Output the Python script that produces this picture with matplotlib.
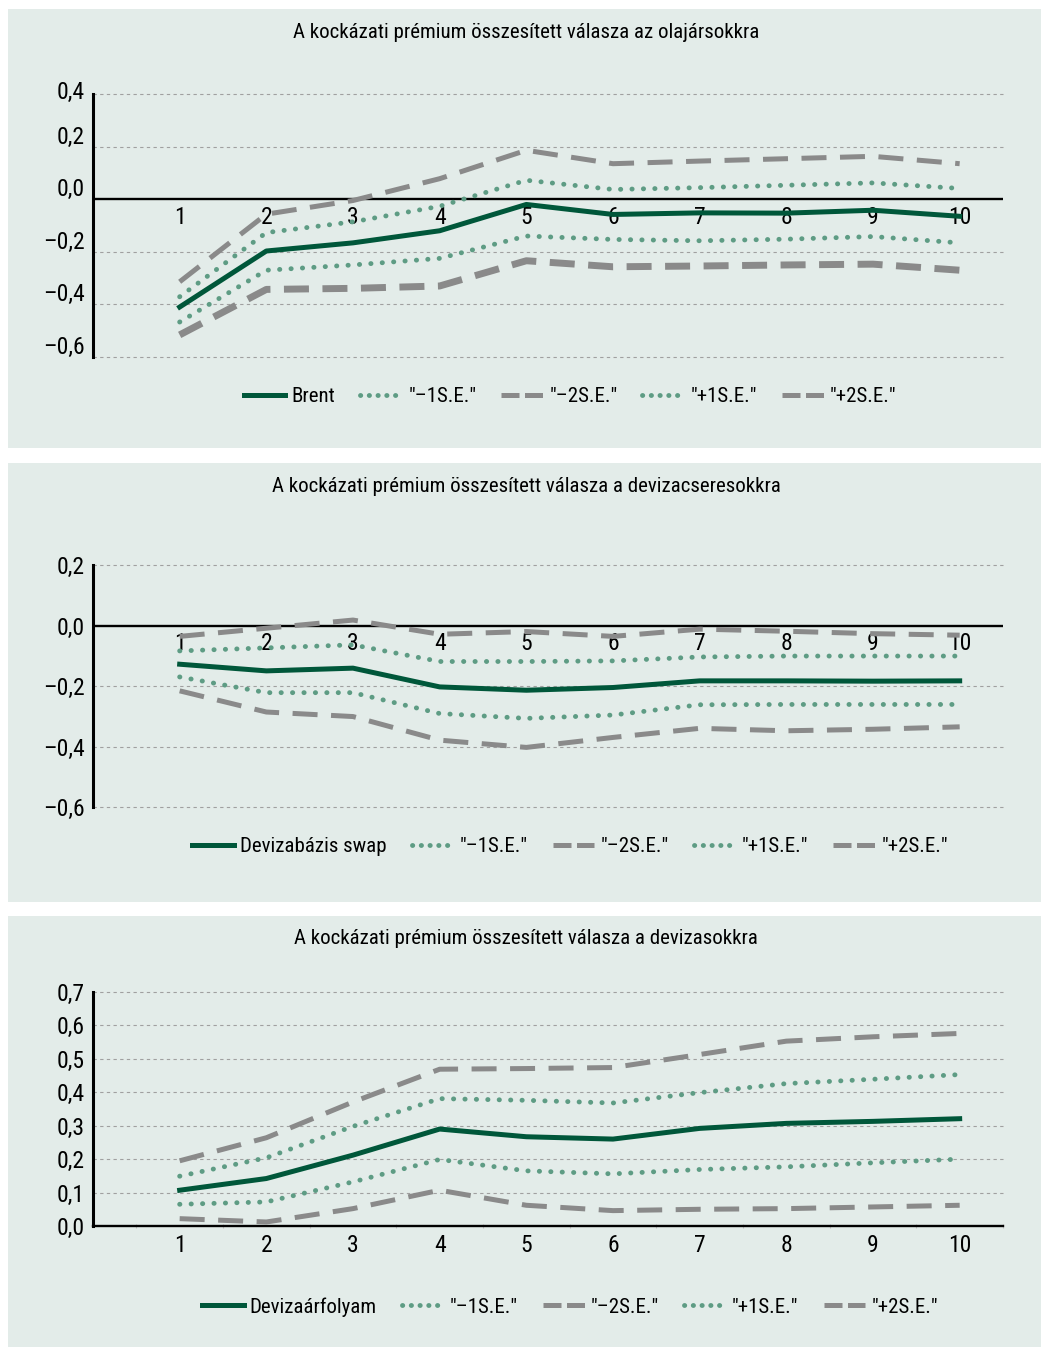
import matplotlib.pyplot as plt
import matplotlib.transforms as mtransforms
from matplotlib.patches import Rectangle
from matplotlib.lines import Line2D
from matplotlib.ticker import FixedLocator
from matplotlib import font_manager
import numpy as np

# prefer a narrow sans if one is installed
installed = {f.name for f in font_manager.fontManager.ttflist}
narrow = [n for n in ['Liberation Sans Narrow', 'Roboto Condensed', 'Open Sans Condensed',
                      'Noto Sans Condensed', 'DejaVu Sans Condensed'] if n in installed]
if narrow:
    plt.rcParams['font.family'] = [narrow[0], 'DejaVu Sans']
else:
    plt.rcParams['font.family'] = ['DejaVu Sans']
    plt.rcParams['font.stretch'] = 'condensed'

# horizon (periods)
steps = list(range(1, 11))

# olajár-sokk
oil_title = 'A kockázati prémium összesített válasza az olajársokkra'
oil_name = 'Brent'
oil_mid = [-0.41, -0.197, -0.166, -0.12, -0.02, -0.058, -0.052, -0.053, -0.042, -0.065]
oil_m1 = [-0.467, -0.27, -0.25, -0.225, -0.14, -0.153, -0.158, -0.152, -0.142, -0.166]
oil_m2 = [-0.516, -0.343, -0.339, -0.33, -0.234, -0.257, -0.254, -0.25, -0.247, -0.27]
oil_p1 = [-0.371, -0.127, -0.086, -0.027, 0.072, 0.037, 0.044, 0.053, 0.062, 0.041]
oil_p2 = [-0.314, -0.057, -0.005, 0.078, 0.186, 0.135, 0.145, 0.154, 0.163, 0.135]
oil_ticks = [0.4, 0.2, 0.0, -0.2, -0.4, -0.6]

# devizacsere-sokk
swap_title = 'A kockázati prémium összesített válasza a devizacseresokkra'
swap_name = 'Devizabázis swap'
swap_mid = [-0.128, -0.15, -0.141, -0.203, -0.214, -0.205, -0.183, -0.183, -0.184, -0.183]
swap_m1 = [-0.17, -0.222, -0.222, -0.291, -0.307, -0.296, -0.262, -0.261, -0.261, -0.261]
swap_m2 = [-0.216, -0.286, -0.301, -0.379, -0.403, -0.37, -0.34, -0.348, -0.343, -0.335]
swap_p1 = [-0.084, -0.074, -0.064, -0.119, -0.119, -0.117, -0.104, -0.101, -0.101, -0.101]
swap_p2 = [-0.036, -0.009, 0.018, -0.029, -0.02, -0.036, -0.012, -0.019, -0.027, -0.032]
swap_ticks = [0.2, 0.0, -0.2, -0.4, -0.6]

# devizaárfolyam-sokk
fx_title = 'A kockázati prémium összesített válasza a devizasokkra'
fx_name = 'Devizaárfolyam'
fx_mid = [0.107, 0.142, 0.212, 0.29, 0.267, 0.26, 0.292, 0.307, 0.313, 0.321]
fx_m1 = [0.065, 0.072, 0.132, 0.199, 0.165, 0.156, 0.169, 0.177, 0.189, 0.2]
fx_m2 = [0.022, 0.012, 0.052, 0.107, 0.062, 0.046, 0.05, 0.052, 0.057, 0.062]
fx_p1 = [0.149, 0.204, 0.298, 0.381, 0.376, 0.368, 0.399, 0.426, 0.439, 0.453]
fx_p2 = [0.195, 0.264, 0.371, 0.469, 0.471, 0.474, 0.513, 0.553, 0.566, 0.576]
fx_ticks = [0.7, 0.6, 0.5, 0.4, 0.3, 0.2, 0.1, 0.0]

band_labels = ['"–1S.E."', '"–2S.E."', '"+1S.E."', '"+2S.E."']

DARK = '#00573A'
DOT = '#5E9C84'
GREY = '#8A8A8A'
PANEL = '#E3ECE9'

W, H = 1041, 1347
fig = plt.figure(figsize=(W / 100, H / 100), dpi=100)


def fx(px):
    return px / W


def fy(px):
    return 1 - px / H


def fmt(v):
    s = f'{abs(v):.1f}'.replace('.', ',')
    return ('–' + s) if v < -1e-9 else s


# panel backgrounds (top, bottom in pixels)
for top, bot in [(9, 448), (463, 902), (916, 1347)]:
    fig.patches.append(Rectangle((fx(8), fy(bot)), fx(W) - fx(8), fy(top) - fy(bot),
                                 transform=fig.transFigure, facecolor=PANEL,
                                 edgecolor='none', zorder=-10))

panels = [
    dict(title=oil_title, name=oil_name, mid=oil_mid, m1=oil_m1, m2=oil_m2, p1=oil_p1, p2=oil_p2,
         ticks=oil_ticks, ax_top=94, ax_bot=357, title_y=32, leg_y=397, zero_axis=True,
         lab_shift=12, m2_lw=5.0),
    dict(title=swap_title, name=swap_name, mid=swap_mid, m1=swap_m1, m2=swap_m2, p1=swap_p1, p2=swap_p2,
         ticks=swap_ticks, ax_top=565, ax_bot=807, title_y=486, leg_y=847, zero_axis=True,
         lab_shift=0, m2_lw=3.6),
    dict(title=fx_title, name=fx_name, mid=fx_mid, m1=fx_m1, m2=fx_m2, p1=fx_p1, p2=fx_p2,
         ticks=fx_ticks, ax_top=992, ax_bot=1226, title_y=939, leg_y=1307, zero_axis=False,
         lab_shift=0, m2_lw=3.6),
]

x_left, x_right = 93, 1003
DOT_LW = 3.5
dot_ls = (0, (0.05, 2.3))
TICK_FS = 17
TEXT_FS = 15

# legend keys use a shorter dash than the plotted lines
leg_keys = [
    Line2D([], [], color=DARK, lw=3.6),
    Line2D([], [], color=DOT, lw=DOT_LW, ls=(0, (0.05, 1.75)), dash_capstyle='round'),
    Line2D([], [], color=GREY, lw=3.6, ls=(0, (3.6, 1.1))),
    Line2D([], [], color=DOT, lw=DOT_LW, ls=(0, (0.05, 1.75)), dash_capstyle='round'),
    Line2D([], [], color=GREY, lw=3.6, ls=(0, (3.6, 1.1))),
]

for p in panels:
    ax = fig.add_axes([fx(x_left), fy(p['ax_bot']), fx(x_right) - fx(x_left),
                       fy(p['ax_top']) - fy(p['ax_bot'])])
    ax.set_facecolor('none')
    ymax, ymin = max(p['ticks']), min(p['ticks'])
    ax.set_xlim(0, 10.5)
    ax.set_ylim(ymin, ymax)

    for v in p['ticks']:
        if abs(v) > 1e-9:
            ax.axhline(v, color='#A0A0A0', lw=0.8, ls=(0, (3, 3)), zorder=1, clip_on=False)

    m2_lw = p['m2_lw']
    ax.plot(steps, p['mid'], color=DARK, lw=3.6, zorder=5, solid_joinstyle='round')
    ax.plot(steps, p['m1'], color=DOT, lw=DOT_LW, ls=dot_ls, dash_capstyle='round', zorder=4)
    ax.plot(steps, p['m2'], color=GREY, lw=m2_lw,
            ls=(0, (5 * 3.6 / m2_lw, 2.7 * 3.6 / m2_lw)), zorder=3)
    ax.plot(steps, p['p1'], color=DOT, lw=DOT_LW, ls=dot_ls, dash_capstyle='round', zorder=4)
    ax.plot(steps, p['p2'], color=GREY, lw=3.6, ls=(0, (5, 2.7)), zorder=3)

    # axes
    for side in ['top', 'right', 'bottom']:
        ax.spines[side].set_visible(False)
    ax.spines['left'].set_linewidth(2.2)
    ax.spines['left'].set_color('black')
    ax.spines['left'].set_zorder(6)
    if p['zero_axis']:
        ax.axhline(0, color='black', lw=1.7, zorder=2)
    else:
        ax.spines['bottom'].set_visible(True)
        ax.spines['bottom'].set_linewidth(1.7)

    ax.set_yticks(p['ticks'])
    ax.set_yticklabels([fmt(v) for v in p['ticks']])
    ax.tick_params(axis='y', length=0, pad=6, labelsize=TICK_FS)
    if p['lab_shift']:
        for i, lab in enumerate(ax.get_yticklabels()):
            shift = 4 if i == 0 else p['lab_shift']
            off = mtransforms.ScaledTranslation(0, shift / 100, fig.dpi_scale_trans)
            lab.set_transform(lab.get_transform() + off)

    ax.set_xticks(steps)
    ax.set_xticklabels([str(s) for s in steps])
    ax.xaxis.set_minor_locator(FixedLocator(np.arange(0.5, 11, 1.0)))
    ax.tick_params(axis='x', which='major', length=0, pad=6, labelsize=TICK_FS)
    ax.tick_params(axis='x', which='minor', length=3, width=0.8, color='#C0C0C0', direction='inout')
    if p['zero_axis']:
        # category labels sit just under the zero line
        zero_frac = -ymin / (ymax - ymin)
        for lab in ax.get_xticklabels():
            lab.set_transform(mtransforms.blended_transform_factory(ax.transData, ax.transAxes)
                              + mtransforms.ScaledTranslation(0, -7 / 100, fig.dpi_scale_trans))
            lab.set_y(zero_frac)
            lab.set_va('top')
        ax.tick_params(axis='x', which='minor', length=0)

    fig.text(fx(526), fy(p['title_y']), p['title'], ha='center', va='center', fontsize=TEXT_FS)

    fig.legend(leg_keys, [p['name']] + band_labels,
               loc='center', bbox_to_anchor=(fx(570), fy(p['leg_y'])), ncol=5, frameon=False,
               fontsize=TEXT_FS, handlelength=2.0, handletextpad=0.3, columnspacing=1.2)

fig.savefig('out.png', dpi=100)
